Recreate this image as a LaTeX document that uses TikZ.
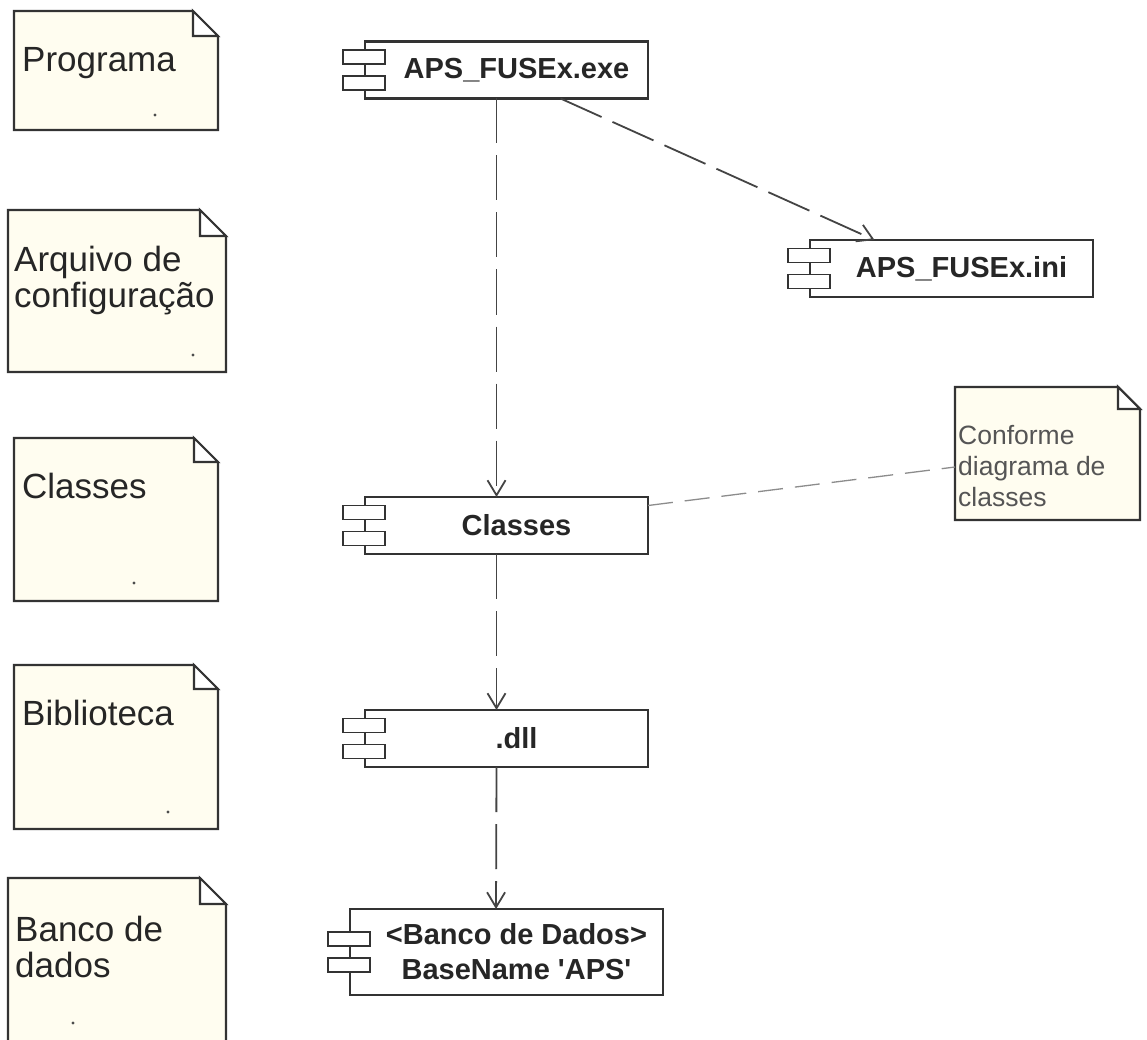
\documentclass[tikz,border=0pt]{standalone}
\usepackage{fontspec}
\setmainfont{Liberation Sans}
\usetikzlibrary{arrows.meta}

\definecolor{notefill}{HTML}{FFFDF0}
\definecolor{edge}{HTML}{333333}
\definecolor{depgray}{HTML}{444444}
\definecolor{remarkgray}{HTML}{555555}

% note outline with a folded corner
\newcommand{\foldnote}[2]{%
  \filldraw[noteline, fill=notefill] (#1.north west) -- ([xshift=-#2]#1.north east)
    -- ([yshift=-#2]#1.north east) -- (#1.south east) -- (#1.south west) -- cycle;
  \filldraw[noteline, fill=white] ([xshift=-#2]#1.north east) |- ([yshift=-#2]#1.north east) -- cycle;
}
% the two small bars of a component
\newcommand{\compicon}[1]{%
  \draw[compbar] ([xshift=-22pt,yshift=20pt]#1.west) rectangle ([xshift=20pt,yshift=6pt]#1.west);
  \draw[compbar] ([xshift=-22pt,yshift=-6pt]#1.west) rectangle ([xshift=20pt,yshift=-20pt]#1.west);
}

\begin{document}
\begin{tikzpicture}[x=1pt, y=-1pt,
  notebox/.style={rectangle, inner sep=0pt, outer sep=0pt, anchor=north west},
  noteline/.style={draw=edge, line width=2.1pt},
  notetext/.style={anchor=north west, inner sep=0pt, align=left, text=black!85,
    font=\fontsize{35}{36}\selectfont},
  notedot/.style={fill=black!70},
  comp/.style={draw=edge, line width=2.1pt, fill=white, rectangle, inner sep=0pt, outer sep=0pt,
    minimum width=283pt, minimum height=57pt, align=center, text=black!85,
    font=\fontsize{29}{35}\selectfont\bfseries},
  compbar/.style={draw=edge, line width=1.8pt, fill=white},
  dep/.style={draw=depgray, line width=1.8pt, dash pattern=on 45pt off 12pt,
    -{Straight Barb[length=15pt,width=18pt,line width=1.8pt]}},
  anchorline/.style={draw=black!45, line width=1.3pt, dash pattern=on 25pt off 12pt},
  remarktext/.style={anchor=north west, inner sep=0pt, align=left, text=remarkgray,
    font=\fontsize{26.5}{31}\selectfont}]

  \path[use as bounding box, clip] (0,0) rectangle (1147,1040);
  \fill[white] (0,0) rectangle (1147,1040);

  % notes on the left
  \node[notebox, minimum width=204pt, minimum height=119pt] (prog) at (14,11) {};
  \node[notebox, minimum width=218pt, minimum height=162pt] (conf) at (8,210) {};
  \node[notebox, minimum width=204pt, minimum height=163pt] (clsnote) at (14,438) {};
  \node[notebox, minimum width=204pt, minimum height=164pt] (libnote) at (14,665) {};
  \node[notebox, minimum width=218pt, minimum height=170pt] (dbnote) at (8,878) {};
  \foldnote{prog}{25pt}
  \foldnote{conf}{26pt}
  \foldnote{clsnote}{24pt}
  \foldnote{libnote}{24pt}
  \foldnote{dbnote}{26pt}

  \node[notetext] (progtxt) at ([xshift=8pt,yshift=-36pt]prog.north west) {Programa};
  \node[notetext] (conftxt) at ([xshift=6pt,yshift=-36pt]conf.north west) {Arquivo de\\configuração};
  \node[notetext] (clsnotetxt) at ([xshift=8pt,yshift=-35pt]clsnote.north west) {Classes};
  \node[notetext] (libnotetxt) at ([xshift=8pt,yshift=-35pt]libnote.north west) {Biblioteca};
  \node[notetext] (dbnotetxt) at ([xshift=7pt,yshift=-38pt]dbnote.north west) {Banco de\\dados};

  \fill[notedot] (155,115) circle (1.6);
  \fill[notedot] (193,355) circle (1.6);
  \fill[notedot] (134,583) circle (1.6);
  \fill[notedot] (168,812) circle (1.6);
  \fill[notedot] (73,1023) circle (1.6);

  % components
  \node[comp] (exe) at (506.5,70) {\hspace*{20pt}APS\_FUSEx.exe};
  \node[comp] (ini) at (951.5,268.5) {\hspace*{20pt}APS\_FUSEx.ini};
  \node[comp] (cls) at (506.5,525.5) {\hspace*{20pt}Classes};
  \node[comp] (dll) at (506.5,738.5) {\hspace*{20pt}.dll};
  \node[comp, minimum width=313pt, minimum height=86pt] (db) at (506.5,952)
    {\hspace*{20pt}<Banco de Dados>\\\hspace*{20pt}BaseName \textquotesingle APS\textquotesingle};
  \compicon{exe}
  \compicon{ini}
  \compicon{cls}
  \compicon{dll}
  \compicon{db}

  % note on the right
  \node[notebox, minimum width=185pt, minimum height=133pt] (remark) at (955,387) {};
  \foldnote{remark}{22pt}
  \node[remarktext] (remarktxt) at ([xshift=3pt,yshift=-38pt]remark.north west)
    {Conforme\\diagrama de\\classes};

  % dependencies
  \draw[dep] ([xshift=-10pt]exe.south) -- ([xshift=-10pt]cls.north);
  \draw[dep] ([xshift=54pt]exe.south) -- ([xshift=-77pt]ini.north);
  \draw[dep] ([xshift=-10pt]cls.south) -- ([xshift=-10pt]dll.north);
  \draw[dep] ([xshift=-10pt]dll.south) -- ([xshift=-10.5pt]db.north);
  \draw[anchorline] ([yshift=20pt]cls.east) -- ([yshift=-13.5pt]remark.west);
\end{tikzpicture}
\end{document}
